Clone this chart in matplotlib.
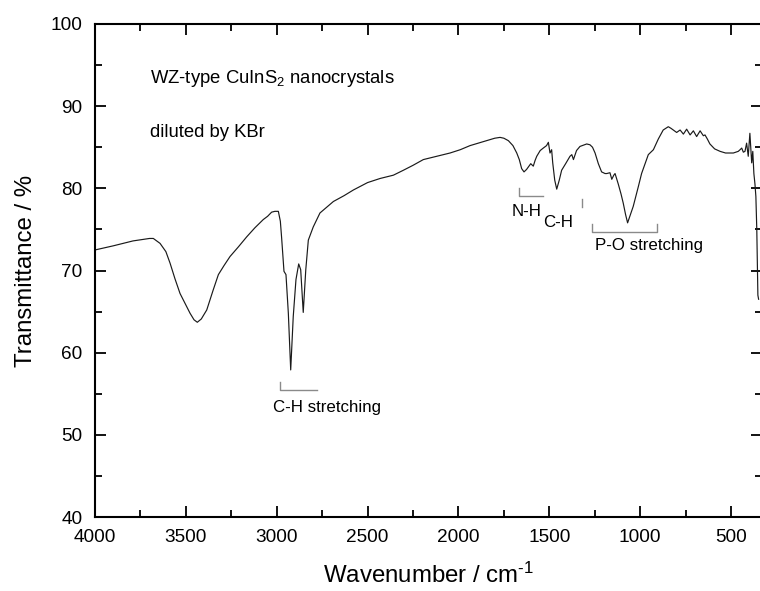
import matplotlib
matplotlib.use("Agg")
import matplotlib.pyplot as plt
from matplotlib.ticker import MultipleLocator

plt.rcParams['font.family'] = ['Liberation Sans', 'DejaVu Sans']
plt.rcParams['mathtext.fontset'] = 'custom'
plt.rcParams['mathtext.rm'] = 'Liberation Sans'
plt.rcParams['mathtext.it'] = 'Liberation Sans:italic'
plt.rcParams['mathtext.bf'] = 'Liberation Sans:bold'

wavenumber = [
    4000, 3900, 3791, 3700, 3679, 3642, 3610, 3587, 3560, 3532, 3500, 3477, 3455,
    3437, 3415, 3385, 3350, 3321, 3290, 3257, 3210, 3165, 3120, 3074, 3050, 3028,
    3010, 2991, 2980, 2973, 2960, 2949, 2936, 2923, 2909, 2894, 2879, 2868, 2854,
    2840, 2826, 2799, 2762, 2720, 2688, 2630, 2578, 2500, 2431, 2358, 2303, 2250,
    2193, 2120, 2046, 1990, 1936, 1890, 1844, 1800, 1771, 1750, 1725, 1700, 1679,
    1665, 1652, 1639, 1625, 1615, 1602, 1588, 1578, 1569, 1550, 1533, 1515, 1505,
    1496, 1487, 1481, 1470, 1459, 1445, 1432, 1410, 1386, 1376, 1367, 1350, 1331,
    1294, 1276, 1262, 1248, 1230, 1212, 1193, 1184, 1166, 1156, 1145, 1138, 1120,
    1105, 1093, 1080, 1069, 1055, 1038, 1010, 992, 973, 955, 927, 900, 873, 845,
    830, 818, 799, 780, 762, 744, 725, 707, 689, 670, 652, 643, 630, 616, 590, 560,
    530, 505, 487, 460, 450, 441, 432, 423, 414, 405, 396, 386, 380, 374, 368, 363,
    358, 352, 348]
transmittance = [
    72.5, 73.0, 73.6, 73.9, 73.9, 73.3, 72.3, 70.9, 69.0, 67.2, 65.8, 64.8, 64.0,
    63.7, 64.1, 65.2, 67.6, 69.5, 70.6, 71.7, 72.9, 74.1, 75.2, 76.2, 76.6, 77.1,
    77.2, 77.2, 76.0, 74.0, 69.9, 69.5, 64.8, 57.9, 64.4, 68.9, 70.8, 70.1, 64.9,
    70.1, 73.7, 75.3, 77.0, 77.8, 78.4, 79.1, 79.8, 80.7, 81.2, 81.6, 82.2, 82.8,
    83.5, 83.9, 84.3, 84.7, 85.2, 85.5, 85.8, 86.1, 86.2, 86.1, 85.8, 85.2, 84.3,
    83.5, 82.4, 82.0, 82.3, 82.6, 83.0, 82.7, 83.4, 83.9, 84.6, 84.9, 85.2, 85.6,
    84.3, 84.7, 83.1, 81.0, 79.9, 81.0, 82.2, 83.0, 83.9, 84.1, 83.5, 84.6, 85.1,
    85.4, 85.3, 85.0, 84.3, 83.0, 82.0, 81.8, 81.8, 81.9, 81.1, 81.6, 81.8, 80.5,
    79.3, 78.2, 76.8, 75.8, 76.7, 77.8, 80.2, 81.8, 83.0, 84.1, 84.7, 86.0, 87.1, 87.5,
    87.3, 87.1, 86.8, 87.1, 86.6, 87.2, 86.5, 87.0, 86.3, 87.0, 86.4, 86.5, 86.0, 85.4, 84.8, 84.5,
    84.3, 84.3, 84.3, 84.5, 84.7, 84.9, 84.4, 84.5, 85.5, 83.9, 86.7, 83.1, 84.5, 81.8, 80.5, 79.0,
    75.0, 67.0, 66.5]

x_ticks = [4000, 3500, 3000, 2500, 2000, 1500, 1000, 500]
y_ticks = [40, 50, 60, 70, 80, 90, 100]

fig = plt.figure(figsize=(7.6, 5.91), dpi=100)
ax = fig.add_axes([95/760, 1-517/591, 667/760, 493/591])

ax.plot(wavenumber, transmittance, color='#1a1a1a', lw=0.85)

ax.set_xlim(4000, 4000 - 667/0.18171)
ax.set_ylim(40, 100)
ax.set_xticks(x_ticks)
ax.set_yticks(y_ticks)
ax.xaxis.set_minor_locator(MultipleLocator(250))
ax.yaxis.set_minor_locator(MultipleLocator(5))
ax.tick_params(which='both', direction='in', top=True, right=True, width=1.3,
               labelsize=13.7, colors='black')
ax.tick_params(which='major', length=8)
ax.tick_params(which='minor', length=5)
ax.tick_params(axis='y', pad=9)
ax.tick_params(axis='x', pad=9)
for s in ax.spines.values():
    s.set_linewidth(1.5)

ax.set_xlabel(r'Wavenumber / cm$^{\text{-1}}$', fontsize=17.3, labelpad=12)
ax.set_ylabel('Transmittance / %', fontsize=17.3, labelpad=10)

ax.text(3697, 92.8, 'WZ-type CuInS$_2$ nanocrystals', fontsize=13.3, va='baseline')
ax.text(3697, 86.3, 'diluted by KBr', fontsize=13.3, va='baseline')

gray = '#8a8a8a'
# C-H stretching bracket
ax.plot([2982, 2982, 2780], [56.4, 55.5, 55.5], color=gray, lw=1)
ax.text(3020, 52.8, 'C-H stretching', fontsize=12.2, va='baseline')
# N-H bracket
ax.plot([1665, 1665, 1536], [80.0, 79.1, 79.1], color=gray, lw=1)
ax.text(1705, 76.6, 'N-H', fontsize=12.2, va='baseline')
# C-H bracket
ax.plot([1322, 1322], [78.7, 77.7], color=gray, lw=1)
ax.text(1534, 75.3, 'C-H', fontsize=12.2, va='baseline')
# P-O bracket
ax.plot([1267, 1267, 909, 909], [75.7, 74.7, 74.7, 75.7], color=gray, lw=1)
ax.text(1248, 72.5, 'P-O stretching', fontsize=12.2, va='baseline')

fig.savefig('out.png', dpi=100)
